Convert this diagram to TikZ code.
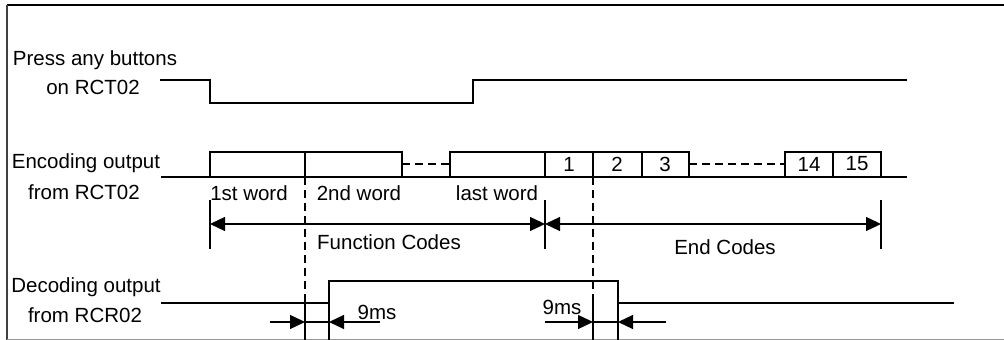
\documentclass[tikz,border=0pt]{standalone}
\usepackage{fontspec}
\setmainfont{Liberation Sans}
\usetikzlibrary{arrows.meta}
\begin{document}
\begin{tikzpicture}[x=0.5pt,y=-0.5pt, line width=0.65pt,
  lbl/.style={font=\fontsize{10.25}{12}\selectfont, inner sep=0pt, anchor=center},
  tip/.style={-{Triangle[length=7.5pt,width=7pt]}},
  dimline/.style={{Triangle[length=7.5pt,width=7pt]}-{Triangle[length=7.5pt,width=7pt]}},
  guide/.style={dash pattern=on 4pt off 2.5pt}]
\useasboundingbox (0,0) rectangle (1004,340);
% frame
\draw[line width=1pt] (7,5.5) -- (1004,5.5);
\draw[black!75, line width=0.6pt] (7,5) -- (7,340);
\draw[black!40, line width=0.6pt] (7,339.2) -- (1004,339.2);

% left labels
\node[lbl] (l1a) at (95,60) {Press any buttons};
\node[lbl] (l1b) at (93,87) {on RCT02};
\node[lbl] (l2a) at (86,163) {Encoding output};
\node[lbl] (l2b) at (84,192) {from RCT02};
\node[lbl] (l3a) at (86,287) {Decoding output};
\node[lbl] (l3b) at (85,315) {from RCR02};

% press signal
\draw (160,80) -- (210,80) -- (210,103) -- (473,103) -- (473,80) -- (907,80);

% encoding output
\draw (161,177) -- (907,177);
\draw (210,177) -- (210,152) -- (402,152) -- (402,177);
\draw (305,152) -- (305,177);
\draw (450,177) -- (450,152) -- (689,152) -- (689,177);
\draw (545,152) -- (545,177);
\draw (593,152) -- (593,177);
\draw (642,152) -- (642,177);
\draw (785,177) -- (785,152) -- (881,152) -- (881,177);
\draw (833,152) -- (833,177);
\draw[guide] (402,164) -- (450,164);
\draw[guide] (689,164) -- (785,164);
\node[lbl] (b1) at (569,164) {1};
\node[lbl] (b2) at (617,164) {2};
\node[lbl] (b3) at (665,164) {3};
\node[lbl] (b14) at (809,164) {14};
\node[lbl] (b15) at (857,164) {15};
\node[lbl] (w1) at (249,193) {1st word};
\node[lbl] (w2) at (359,193) {2nd word};
\node[lbl] (wl) at (497,193) {last word};

% guides
\draw[guide] (305,177) -- (305,301);
\draw (305,301) -- (305,340);
\draw[guide] (593,177) -- (593,301);
\draw (593,301) -- (593,340);

% dimension lines
\coordinate (d1) at (210,224);
\coordinate (d2) at (545,224);
\coordinate (d3) at (881,224);
\draw (210,200) -- (210,249);
\draw (545,200) -- (545,249);
\draw (881,200) -- (881,249);
\draw[dimline] (d1) -- (d2);
\draw[dimline] (d2) -- (d3);
\node[lbl] (fc) at (389,242) {Function Codes};
\node[lbl] (ec) at (725,247) {End Codes};

% decoding output
\draw (161,303) -- (329,303) -- (329,281) -- (618,281) -- (618,303) -- (954,303);
\draw (329,303) -- (329,340);
\draw (618,303) -- (618,340);

% 9ms arrows
\coordinate (a1) at (270,322);
\coordinate (a2) at (305,322);
\coordinate (a3) at (329,322);
\coordinate (a4) at (380,322);
\coordinate (a5) at (545,322);
\coordinate (a6) at (593,322);
\coordinate (a7) at (618,322);
\coordinate (a8) at (666,322);
\draw[tip] (a1) -- (a2);
\draw (a2) -- (a3);
\draw[tip] (a4) -- (a3);
\draw[tip] (a5) -- (a6);
\draw (a6) -- (a7);
\draw[tip] (a8) -- (a7);
\node[lbl] (t1) at (377,312) {9ms};
\node[lbl] (t2) at (562,307) {9ms};
\end{tikzpicture}
\end{document}
